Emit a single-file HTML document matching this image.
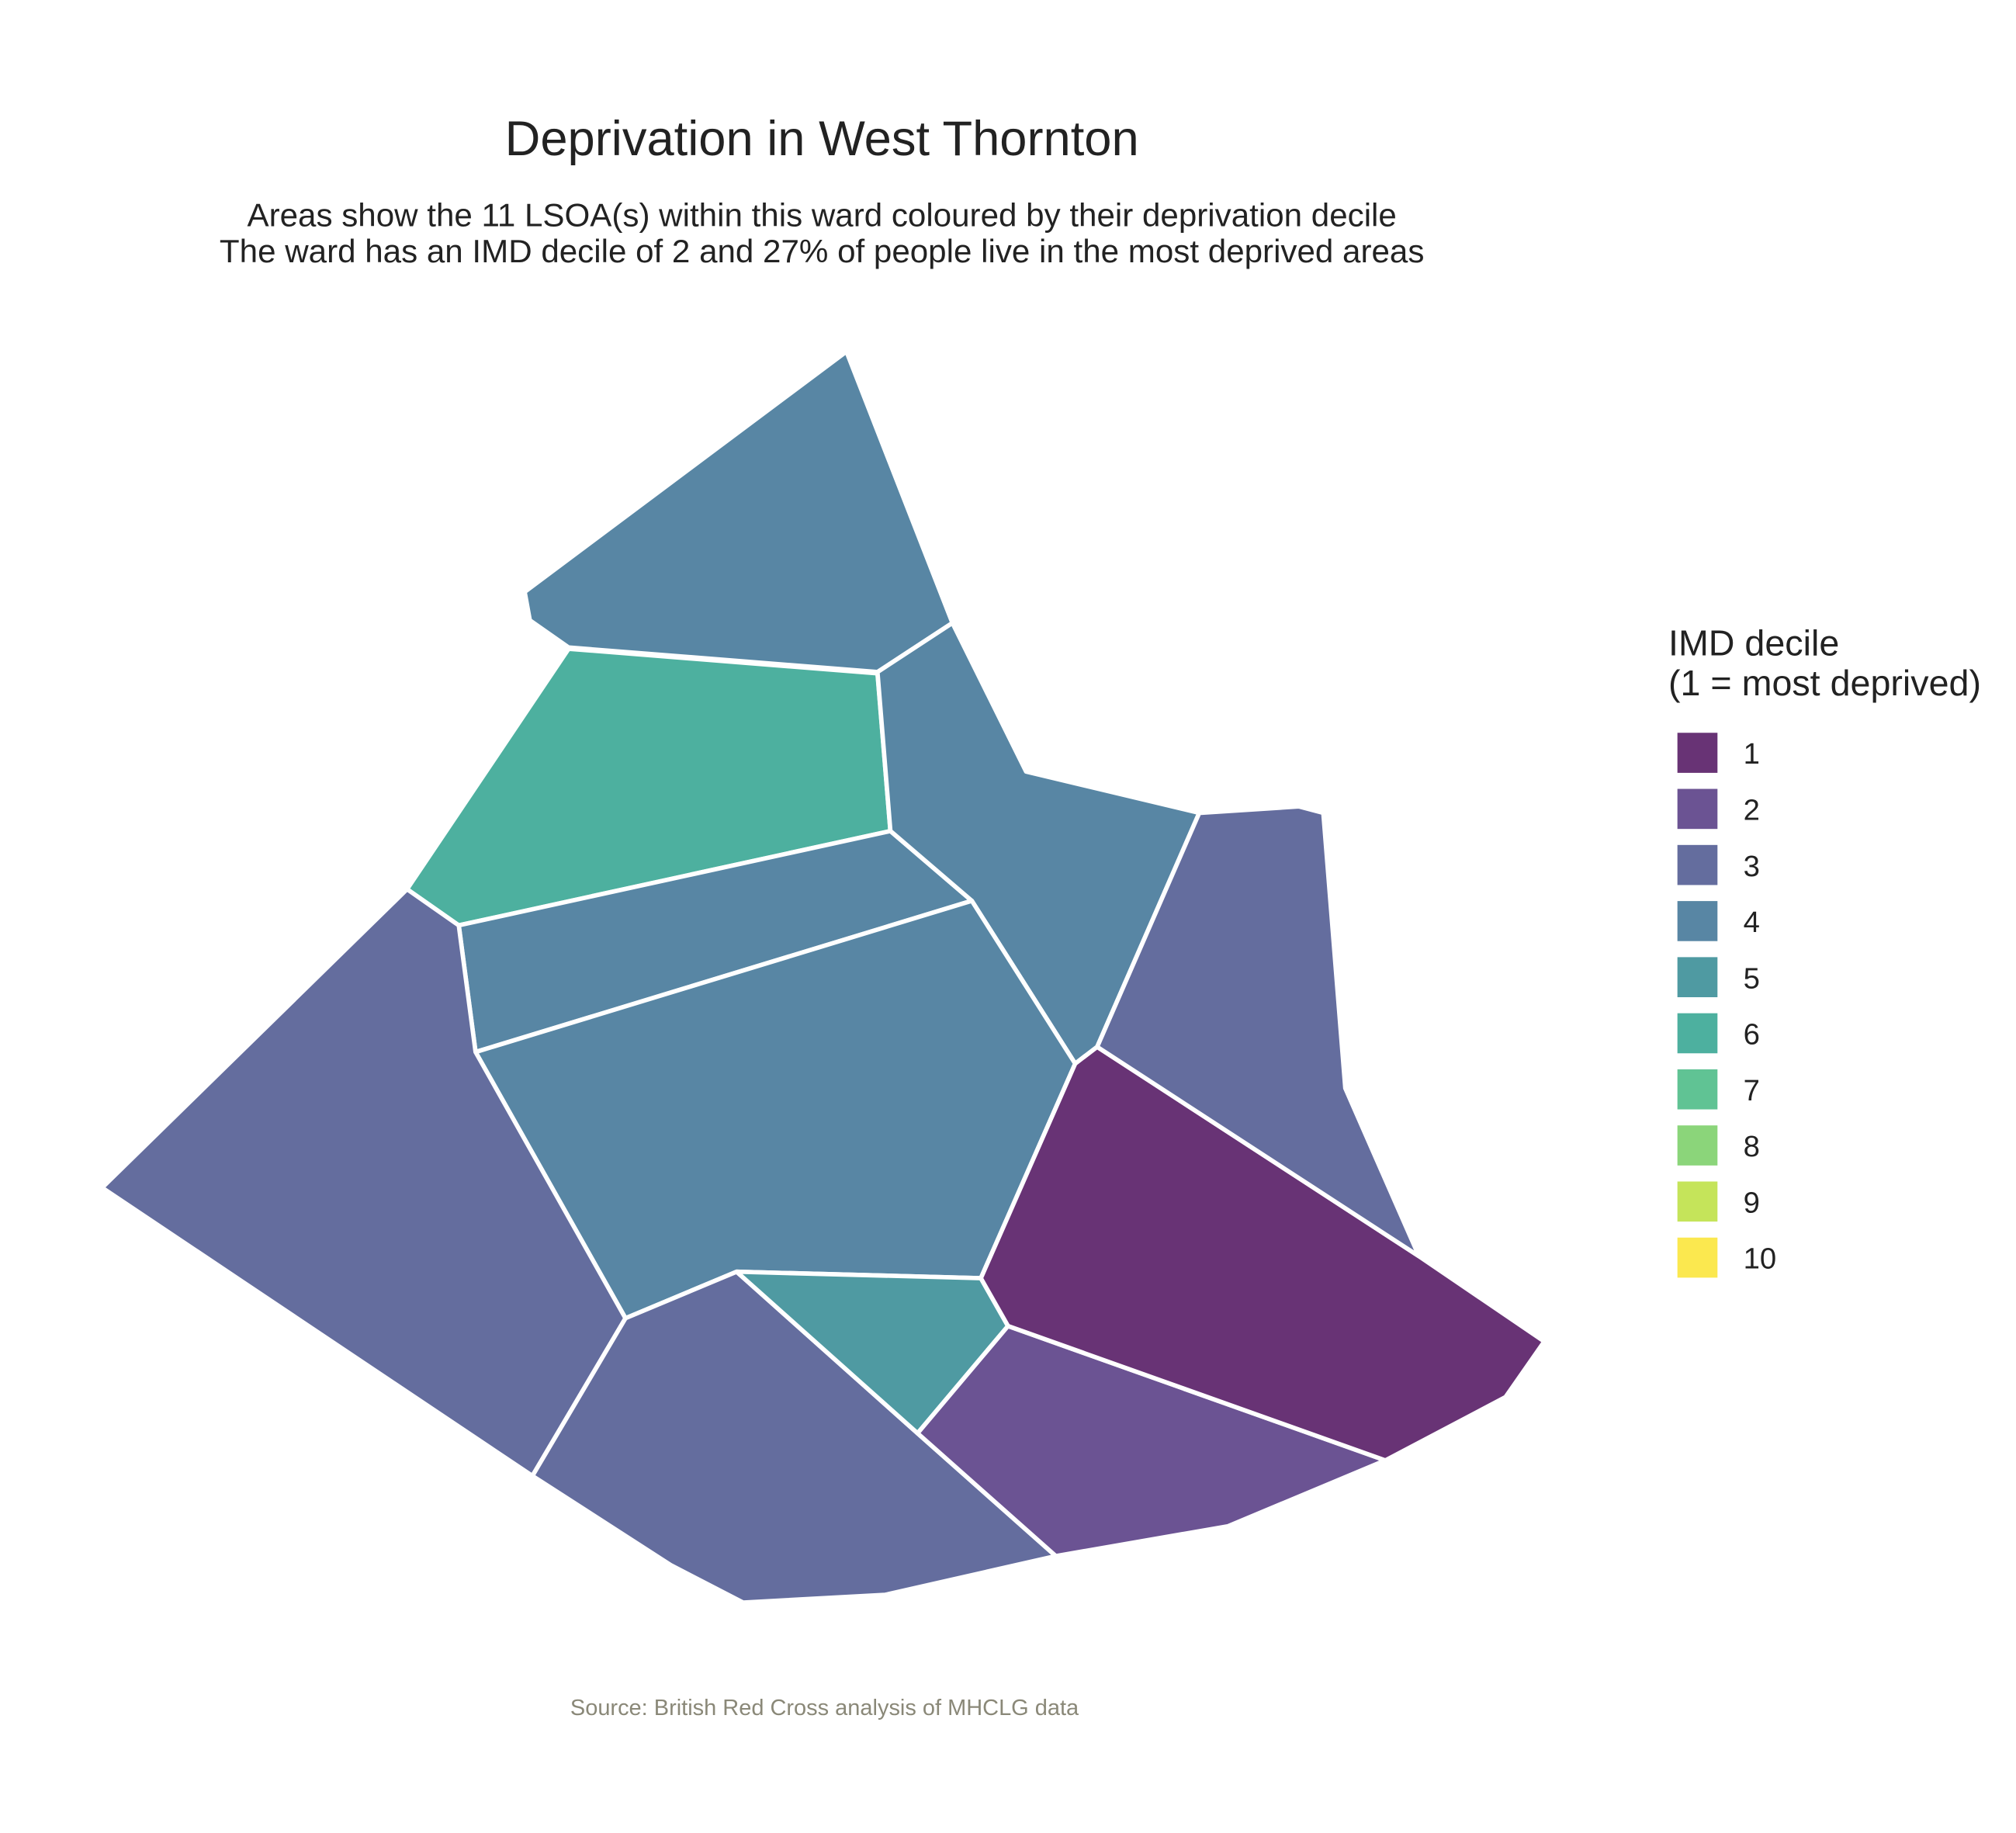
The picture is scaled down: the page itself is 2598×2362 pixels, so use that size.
<!DOCTYPE html>
<html><head><meta charset="utf-8">
<style>
html,body{margin:0;padding:0;background:#fff;}
svg{display:block;}
text{font-family:"Liberation Sans",Arial,sans-serif;}
</style></head>
<body>
<svg id="chart" width="2598" height="2362" viewBox="0 0 1560 1418.3" preserveAspectRatio="none" xmlns="http://www.w3.org/2000/svg">
<rect width="1560" height="1418.3" fill="#fff"/>
<g transform="translate(-3,-3)">
<text x="639" y="123" text-anchor="middle" font-size="38" fill="#222">Deprivation in West Thornton</text>
<text x="639" y="178" text-anchor="middle" font-size="25.3" fill="#222">Areas show the 11 LSOA(s) within this ward coloured by their deprivation decile</text>
<text x="639" y="206" text-anchor="middle" font-size="25.3" fill="#222">The ward has an IMD decile of 2 and 27% of people live in the most deprived areas</text>
<g id="map"></g>
<g id="legend" transform="translate(-12,-3)">
<text x="1306" y="513" font-size="28" fill="#222">IMD decile</text>
<text x="1306" y="544" font-size="28" fill="#222">(1 = most deprived)</text>
</g>
<text x="641" y="1330" text-anchor="middle" font-size="17.4" fill="#8a8878">Source: British Red Cross analysis of MHCLG data</text>
</g>
</svg>
<script>
const legendLevels = [1,2,3,4,5,6,7,8,9,10];
const paletteColors = ["#683375","#6b5393","#646d9e","#5886a4","#4f9aa2","#4db09f","#60c394","#8bd57a","#c5e45a","#fbe84f"];
const lsoaNames = ["lsoa-north","lsoa-north-west","lsoa-central-band","lsoa-north-east","lsoa-central","lsoa-west","lsoa-south","lsoa-south-centre","lsoa-south-east","lsoa-east","lsoa-far-east"];
const deciles = [4,6,4,4,4,3,3,5,2,1,3];
const shapes = [
 [[658,275],[740,485],[682,523],[443,504],[413,483],[409,461]],
 [[443,505],[682,524],[692,646],[358,719],[318,691]],
 [[358,719],[692,646],[755,700],[371,817]],
 [[682,523],[740,485],[797,600],[931,632],[852,813],[835,826],[755,700],[692,646]],
 [[371,817],[755,700],[835,826],[762,992],[573,987],[487,1023]],
 [[318,691],[358,719],[371,817],[487,1023],[415,1145],[82,922]],
 [[487,1023],[573,987],[713,1112],[820,1207],[688,1237],[578,1243],[522,1214],[415,1145]],
 [[573,987],[762,992],[783,1029],[713,1112]],
 [[783,1029],[1075,1133],[953,1184],[820,1207],[713,1112]],
 [[835,826],[852,813],[1101,975],[1198,1041],[1168,1084],[1075,1133],[783,1029],[762,992]],
 [[931,632],[1008,627],[1027,632],[1044,845],[1101,975],[852,813]]
];
const NS="http://www.w3.org/2000/svg";
const map=document.getElementById('map');
function colorFor(d){return paletteColors[legendLevels.indexOf(d)];}
shapes.forEach((pts,i)=>{
  const p=document.createElementNS(NS,'polygon');
  p.setAttribute('points',pts.map(q=>q.join(',')).join(' '));
  p.setAttribute('fill',colorFor(deciles[i]));
  p.setAttribute('stroke','#fff');
  p.setAttribute('stroke-width','3.4');
  p.setAttribute('stroke-linejoin','round');
  
  
  map.appendChild(p);
});
const legend=document.getElementById('legend');
legendLevels.forEach((lv,i)=>{
  const y=573+i*43.4;
  const r=document.createElementNS(NS,'rect');
  r.setAttribute('x',1313);r.setAttribute('y',y);
  r.setAttribute('width',31);r.setAttribute('height',31);
  r.setAttribute('fill',paletteColors[i]);
  
  
  legend.appendChild(r);
  const t=document.createElementNS(NS,'text');
  t.setAttribute('x',1364);t.setAttribute('y',y+24);
  t.setAttribute('font-size','23');t.setAttribute('fill','#222');
  t.textContent=String(lv);
  
  
  legend.appendChild(t);
});
</script>
</body></html>
